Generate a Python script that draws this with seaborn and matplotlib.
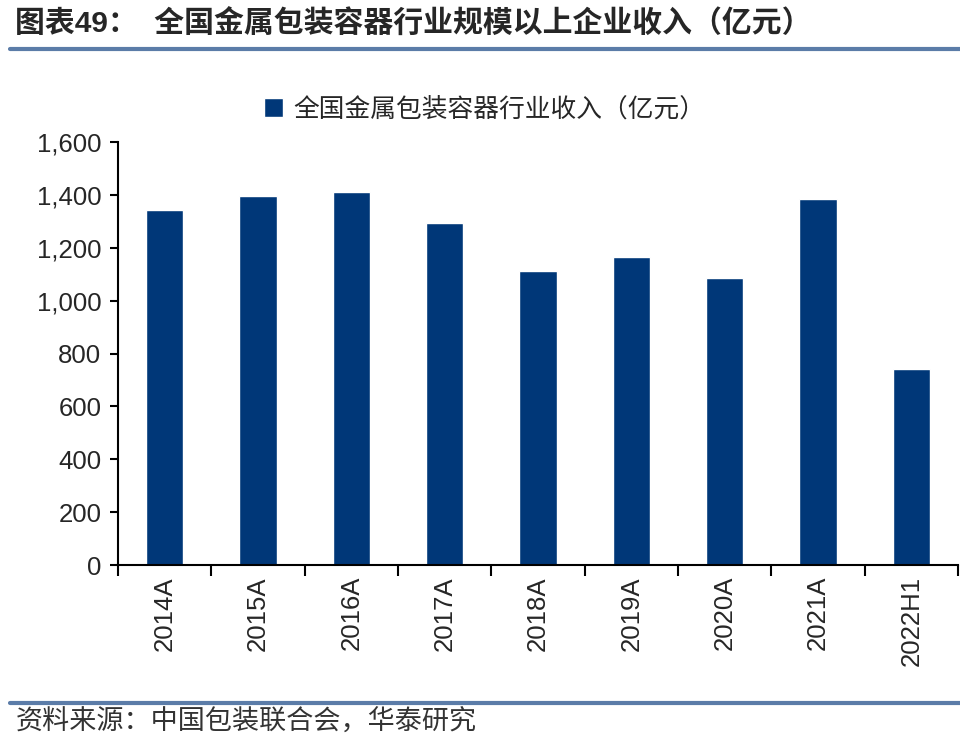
import numpy as np
import pandas as pd
import seaborn as sns
import matplotlib
matplotlib.use('Agg')
import matplotlib.pyplot as plt
from matplotlib.lines import Line2D
from matplotlib.ticker import FixedLocator, FuncFormatter

# data
years = ['2014A', '2015A', '2016A', '2017A', '2018A', '2019A', '2020A', '2021A', '2022H1']
revenue = [1342, 1395, 1410, 1293, 1114, 1167, 1085, 1385, 740]
series_name = '全国金属包装容器行业收入（亿元）'

title = '图表49：  全国金属包装容器行业规模以上企业收入（亿元）'
source = '资料来源：中国包装联合会，华泰研究'

bar_color = '#003778'
rule_color = '#5b7ca8'

sns.set_style('white')
plt.rcParams['font.family'] = ['Liberation Sans', 'Noto Sans CJK SC', 'DejaVu Sans']

df = pd.DataFrame({'year': years, 'revenue': revenue})

fig = plt.figure(figsize=(9.6, 7.41), dpi=100)
ax = fig.add_axes([0.123, 0.2375, 0.875, 0.5705])

sns.barplot(data=df, x='year', y='revenue', color=bar_color, width=0.4,
            label=series_name, ax=ax, saturation=1)

ax.set_ylim(0, 1600)
ax.set_xlim(-0.5, len(years) - 0.5)
ax.set_yticks(np.arange(0, 1601, 200))
ax.yaxis.set_major_formatter(FuncFormatter(lambda v, p: f'{int(v):,}'))
ax.set_xlabel('')
ax.set_ylabel('')

# ticks between categories, labels at category centres
ax.xaxis.set_major_locator(FixedLocator(np.arange(-0.5, len(years), 1.0)))
ax.xaxis.set_minor_locator(FixedLocator(np.arange(len(years))))
ax.set_xticklabels([''] * (len(years) + 1))
ax.set_xticklabels(years, minor=True, rotation=90, fontsize=18.5)
ax.tick_params(axis='x', which='major', direction='out', length=8, width=1.5,
               bottom=True, color='black')
ax.tick_params(axis='x', which='minor', length=0, pad=8)
ax.tick_params(axis='y', direction='out', length=6, width=1.5, left=True,
               labelsize=18.5, color='black', pad=6)

for s in ['top', 'right']:
    ax.spines[s].set_visible(False)
for s in ['left', 'bottom']:
    ax.spines[s].set_color('black')
    ax.spines[s].set_linewidth(1.5)

ax.legend(loc='center', bbox_to_anchor=(0.505, 0.852), bbox_transform=fig.transFigure,
          frameon=False, handlelength=0.75, handleheight=0.75,
          handletextpad=0.4, prop={'family': ['Noto Sans CJK SC'], 'size': 18.5})

fig.text(0.016, 0.967, title, fontsize=21.5, fontweight='bold', va='center', ha='left',
         family=['Liberation Sans', 'Noto Sans CJK SC'])
fig.add_artist(Line2D([0.01, 1.0], [1 - 49 / 741] * 2, color=rule_color, lw=3,
                      transform=fig.transFigure))
fig.add_artist(Line2D([0.01, 1.0], [1 - 703 / 741] * 2, color=rule_color, lw=3,
                      transform=fig.transFigure))
fig.text(0.016, 1 - 722 / 741, source, fontsize=19.5, va='center', ha='left',
         color='#333333', family=['Noto Sans CJK SC'])

fig.savefig('out.png', dpi=100)
